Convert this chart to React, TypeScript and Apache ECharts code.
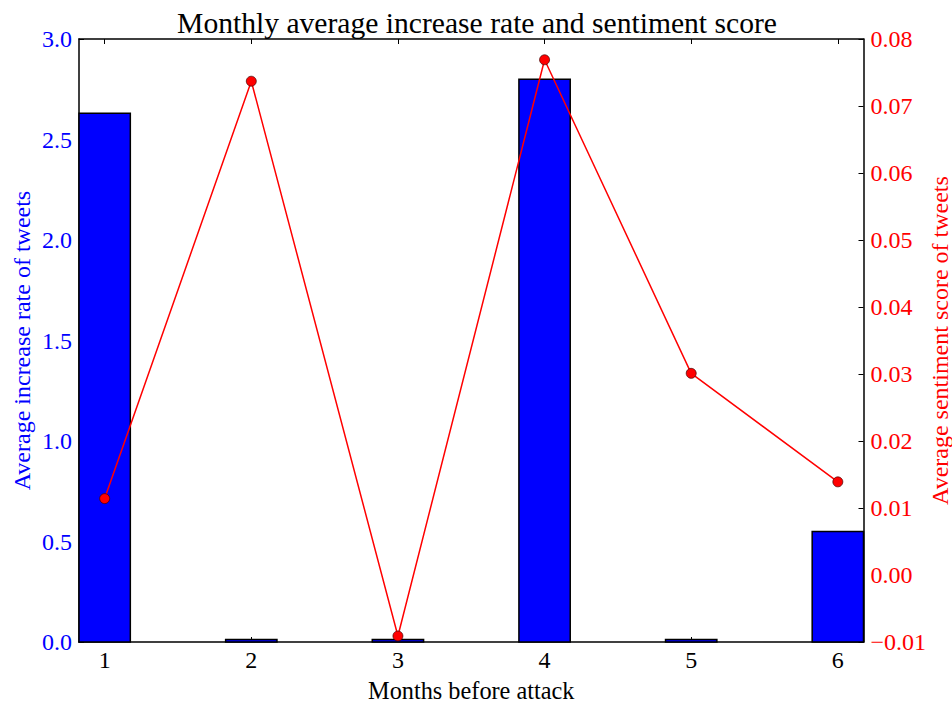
import React, { useEffect, useRef } from "react";
import * as echarts from "echarts";

const months = [1, 2, 3, 4, 5, 6];
const increaseRate = [2.63, 0.012, 0.012, 2.8, 0.012, 0.55];
const sentiment = [0.0114, 0.0737, -0.0091, 0.0769, 0.0301, 0.0139];
const xTicks = [1, 2, 3, 4, 5, 6];

const FONT = "'Liberation Serif', 'DejaVu Serif', serif";
const BAR_WIDTH = 0.35;

export default function App() {
  const ref = useRef<HTMLDivElement>(null);
  useEffect(() => {
    if (!ref.current) return;
    const chart = echarts.init(ref.current, undefined, { renderer: "svg" });
    const barData = months.map((m, i) => [m, increaseRate[i]]);
    const lineData = months.map((m, i) => [m, sentiment[i]]);
    const tickStyle = { show: true, inside: true, length: 5, lineStyle: { color: "#000", width: 1 } };
    chart.setOption({
      animation: false,
      backgroundColor: "#fff",
      title: {
        text: "Monthly average increase rate and sentiment score",
        left: 472,
        textAlign: "center",
        top: 3,
        textStyle: { fontFamily: FONT, fontSize: 29.6, fontWeight: "normal", color: "#000" },
      },
      grid: {
        left: 79,
        right: 88.5,
        top: 39,
        bottom: 60,
        containLabel: false,
        outerBoundsMode: "none",
      },
      xAxis: [
        {
          type: "value",
          min: 1 - BAR_WIDTH / 2,
          max: 6 + BAR_WIDTH / 2,
          position: "bottom",
          name: "Months before attack",
          nameLocation: "middle",
          nameGap: 36,
          nameMoveOverlap: false,
          nameTextStyle: { fontFamily: FONT, fontSize: 24.3, color: "#000" },
          axisLine: { show: true, onZero: false, lineStyle: { color: "#000", width: 1.5 } },
          axisTick: { ...tickStyle, customValues: xTicks },
          axisLabel: {
            customValues: xTicks,
            fontFamily: FONT,
            fontSize: 24,
            color: "#000",
            margin: 6,
            showMinLabel: true,
            showMaxLabel: true,
          },
          splitLine: { show: false },
        },
        {
          type: "value",
          min: 1 - BAR_WIDTH / 2,
          max: 6 + BAR_WIDTH / 2,
          position: "top",
          axisLine: { show: true, onZero: false, lineStyle: { color: "#000", width: 1.5 } },
          axisTick: { ...tickStyle, customValues: xTicks },
          axisLabel: { show: false },
          splitLine: { show: false },
        },
      ],
      yAxis: [
        {
          type: "value",
          min: 0,
          max: 3,
          interval: 0.5,
          position: "left",
          name: "Average increase rate of tweets",
          nameLocation: "middle",
          nameGap: 45,
          nameRotate: 90,
          nameMoveOverlap: false,
          nameTextStyle: { fontFamily: FONT, fontSize: 24, color: "#0000ff" },
          axisLine: { show: true, onZero: false, lineStyle: { color: "#000", width: 1.5 } },
          axisTick: tickStyle,
          axisLabel: {
            fontFamily: FONT,
            fontSize: 24,
            color: "#0000ff",
            margin: 7,
            formatter: (v: number) => v.toFixed(1),
          },
          splitLine: { show: false },
        },
        {
          type: "value",
          min: -0.01,
          max: 0.08,
          interval: 0.01,
          position: "right",
          name: "Average sentiment score of tweets",
          nameLocation: "middle",
          nameGap: 64,
          nameRotate: 90,
          nameMoveOverlap: false,
          nameTextStyle: { fontFamily: FONT, fontSize: 24, color: "#ff0000" },
          axisLine: { show: true, onZero: false, lineStyle: { color: "#000", width: 1.5 } },
          axisTick: tickStyle,
          axisLabel: {
            fontFamily: FONT,
            fontSize: 24,
            color: "#ff0000",
            margin: 7,
            formatter: (v: number) => (v < -1e-9 ? "\u2212" + Math.abs(v).toFixed(2) : Math.abs(v) < 1e-9 ? "0.00" : v.toFixed(2)),
          },
          splitLine: { show: false },
        },
      ],
      series: [
        {
          type: "custom",
          xAxisIndex: 0,
          yAxisIndex: 0,
          z: 1,
          data: barData,
          renderItem: (params: any, api: any) => {
            const x = api.value(0);
            const y = api.value(1);
            const p0 = api.coord([x - BAR_WIDTH / 2, y]);
            const p1 = api.coord([x + BAR_WIDTH / 2, 0]);
            return {
              type: "rect",
              shape: { x: p0[0], y: p0[1], width: p1[0] - p0[0], height: p1[1] - p0[1] },
              style: { fill: "#0000ff", stroke: "#000", lineWidth: 1.5 },
            };
          },
        },
        {
          type: "line",
          xAxisIndex: 0,
          yAxisIndex: 1,
          z: 5,
          data: lineData,
          symbol: "circle",
          symbolSize: 10,
          lineStyle: { color: "#ff0000", width: 1.5 },
          itemStyle: { color: "#ff0000", borderColor: "#400000", borderWidth: 0.7 },
        },
      ],
    });
    return () => chart.dispose();
  }, []);
  return (
    <div
      ref={ref}
      style={{ position: "absolute", left: 0, top: 0, width: 952, height: 702 }}
    />
  );
}
